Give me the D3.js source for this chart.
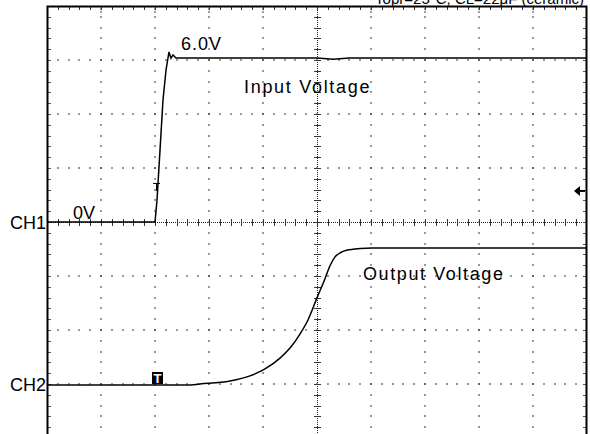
<!DOCTYPE html>
<html>
<head>
<meta charset="utf-8">
<script src="https://cdn.jsdelivr.net/npm/d3@7"></script>
<style>
  html, body { margin: 0; padding: 0; background: #fff; }
  svg { display: block; }
  text { font-family: "Liberation Sans", Arial, sans-serif; fill: #000; }
</style>
</head>
<body>
<div id="container"></div>
<script>
// time in scope divisions relative to trigger, voltage in volts (2 V/div both channels)
const inputTime  = [-2, 0, 0.037, 0.093, 0.148, 0.204, 0.259, 0.296, 0.333, 0.389, 0.463, 3.0, 3.3, 3.6, 8];
const inputVolts = [0, 0, 0.81, 2.67, 4.52, 5.63, 6.30, 6.07, 6.19, 6.07, 6.07, 6.07, 6.03, 6.07, 6.07];

const outputTime  = [-2, 0, 0.6, 0.833, 1.389, 1.759, 2.037, 2.315, 2.5, 2.685, 2.833, 3.0, 3.148, 3.241, 3.33, 3.44, 3.56, 3.8, 4.02, 8];
const outputVolts = [-0.04, -0.04, -0.04, 0.0, 0.11, 0.30, 0.56, 0.96, 1.33, 1.85, 2.37, 3.19, 3.9, 4.38, 4.7, 4.87, 4.96, 5.02, 5.04, 5.04];

const labels = {
  top: "Topr=25°C, CL=22μF (ceramic)",
  ch1: "CH1", ch2: "CH2",
  inLevel: "6.0V", zero: "0V",
  inName: "Input Voltage", outName: "Output Voltage"
};
const triggerLevel = 1.15; // V on CH1

const W = 590, H = 434;
const plotL = 47, plotR = 587, plotT = 6, plotB = 438;

const svg = d3.select("#container").append("svg")
  .attr("width", W).attr("height", H);

svg.append("rect").attr("width", W).attr("height", H).attr("fill", "#fff");

// grid in divisions
const gx = d3.scaleLinear().domain([0, 10]).range([plotL, plotR]);
const gy = d3.scaleLinear().domain([0, 8]).range([plotT, plotB]);

// signal scales
const x = d3.scaleLinear().domain([-2, 8]).range([plotL, plotR]);
const y1 = d3.scaleLinear().domain([-8, 8]).range([plotB, plotT]);
const y2 = d3.scaleLinear().domain([-2, 14]).range([plotB, plotT]);

const grid = svg.append("g");
const minorX = d3.range(1, 50).map(d => d / 5);
const minorY = d3.range(1, 40).map(d => d / 5);

// dotted vertical grid lines
d3.range(1, 10).filter(k => k !== 5).forEach(k => {
  grid.selectAll(null).data(minorY).join("rect")
    .attr("x", Math.round(gx(k)) - 0.5).attr("y", d => Math.round(gy(d)) - 1)
    .attr("width", 1).attr("height", 2).attr("fill", "#333");
  // denser dots near the top edge
  grid.selectAll(null).data([2, 5]).join("rect")
    .attr("x", Math.round(gx(k)) - 0.5).attr("y", d => plotT + d)
    .attr("width", 1).attr("height", 2).attr("fill", "#333");
});
// dotted horizontal grid lines
d3.range(1, 8).filter(k => k !== 4).forEach(k => {
  grid.selectAll(null).data(minorX).join("rect")
    .attr("x", d => Math.round(gx(d)) - 1).attr("y", Math.round(gy(k)) - 0.5)
    .attr("width", 2).attr("height", 1).attr("fill", "#333");
});

// center lines: fine dotted with ticks
grid.append("line")
  .attr("x1", plotL).attr("x2", plotR).attr("y1", gy(4) + 0.5).attr("y2", gy(4) + 0.5)
  .attr("stroke", "#222").attr("stroke-dasharray", "1,1");
grid.append("line")
  .attr("x1", gx(5) + 0.5).attr("x2", gx(5) + 0.5).attr("y1", plotT).attr("y2", plotB)
  .attr("stroke", "#222").attr("stroke-dasharray", "1,1");
grid.selectAll(null).data(minorX).join("line")
  .attr("x1", d => Math.round(gx(d)) + 0.5).attr("x2", d => Math.round(gx(d)) + 0.5)
  .attr("y1", gy(4) - 3).attr("y2", gy(4) + 4)
  .attr("stroke", "#333");
grid.selectAll(null).data(minorY).join("line")
  .attr("y1", d => Math.round(gy(d)) + 0.5).attr("y2", d => Math.round(gy(d)) + 0.5)
  .attr("x1", gx(5) - 3).attr("x2", gx(5) + 4)
  .attr("stroke", "#333");

// border ticks
grid.selectAll(null).data(minorX).join("line")
  .attr("x1", d => Math.round(gx(d)) + 0.5).attr("x2", d => Math.round(gx(d)) + 0.5)
  .attr("y1", plotT).attr("y2", plotT + 4).attr("stroke", "#333");
grid.selectAll(null).data(minorY).join("line")
  .attr("y1", d => Math.round(gy(d)) + 0.5).attr("y2", d => Math.round(gy(d)) + 0.5)
  .attr("x1", plotL).attr("x2", plotL + 4).attr("stroke", "#555");
grid.selectAll(null).data(minorY).join("line")
  .attr("y1", d => Math.round(gy(d)) + 0.5).attr("y2", d => Math.round(gy(d)) + 0.5)
  .attr("x1", plotR - 4).attr("x2", plotR).attr("stroke", "#555");

// frame
svg.append("path")
  .attr("d", `M${plotL + 0.5},${H + 5}V${plotT + 0.5}H${plotR - 0.5}V${H + 5}`)
  .attr("fill", "none").attr("stroke", "#000").attr("stroke-width", 2);

// traces
const lineIn = d3.line().x((d, i) => x(inputTime[i])).y(d => y1(d));
const lineOut = d3.line().x((d, i) => x(outputTime[i])).y(d => y2(d)).curve(d3.curveMonotoneX);

svg.append("path").datum(inputVolts)
  .attr("d", lineIn).attr("fill", "none").attr("stroke", "#000").attr("stroke-width", 1.5);
svg.append("path").datum(outputVolts)
  .attr("d", lineOut).attr("fill", "none").attr("stroke", "#000").attr("stroke-width", 1.5);

// trigger point marker on CH1
const tx = x(0) + 1.5, ty = y1(triggerLevel) - 8;
svg.append("path")
  .attr("d", `M${tx - 3.5},${ty + 0.5}H${tx + 3.5}M${tx},${ty}V${ty + 8}`)
  .attr("stroke", "#000").attr("stroke-width", 1);

// trigger position box on CH2
const bx = x(0) - 3, by = y2(0) - 12;
svg.append("rect").attr("x", bx).attr("y", by).attr("width", 11).attr("height", 12).attr("fill", "#000");
svg.append("text").attr("x", bx + 5.5).attr("y", by + 11)
  .attr("text-anchor", "middle").attr("font-size", 13).attr("font-weight", "bold")
  .style("fill", "#fff").text("T");

// trigger level arrow on right
const ay = y1(triggerLevel);
svg.append("path")
  .attr("d", `M${plotR - 13},${ay} L${plotR - 7},${ay - 5} L${plotR - 7},${ay + 5} Z`)
  .attr("fill", "#000");
svg.append("line").attr("x1", plotR - 8).attr("x2", plotR - 2).attr("y1", ay).attr("y2", ay)
  .attr("stroke", "#000").attr("stroke-width", 2);

// labels
svg.append("text").attr("x", 584).attr("y", 4).attr("text-anchor", "end")
  .attr("font-size", 15).text(labels.top);
svg.append("text").attr("x", 10).attr("y", y1(0) + 7).attr("font-size", 18).text(labels.ch1);
svg.append("text").attr("x", 10).attr("y", y2(0) + 7).attr("font-size", 18).text(labels.ch2);
svg.append("text").attr("x", 73).attr("y", y1(0) - 3).attr("font-size", 18).text(labels.zero);
svg.append("text").attr("x", 181).attr("y", 50).attr("font-size", 18).attr("letter-spacing", 1).text(labels.inLevel);
svg.append("text").attr("x", 244).attr("y", 93).attr("font-size", 18)
  .attr("letter-spacing", 1.7).text(labels.inName);
svg.append("text").attr("x", 363).attr("y", 280).attr("font-size", 18)
  .attr("letter-spacing", 1.6).text(labels.outName);
</script>
</body>
</html>
